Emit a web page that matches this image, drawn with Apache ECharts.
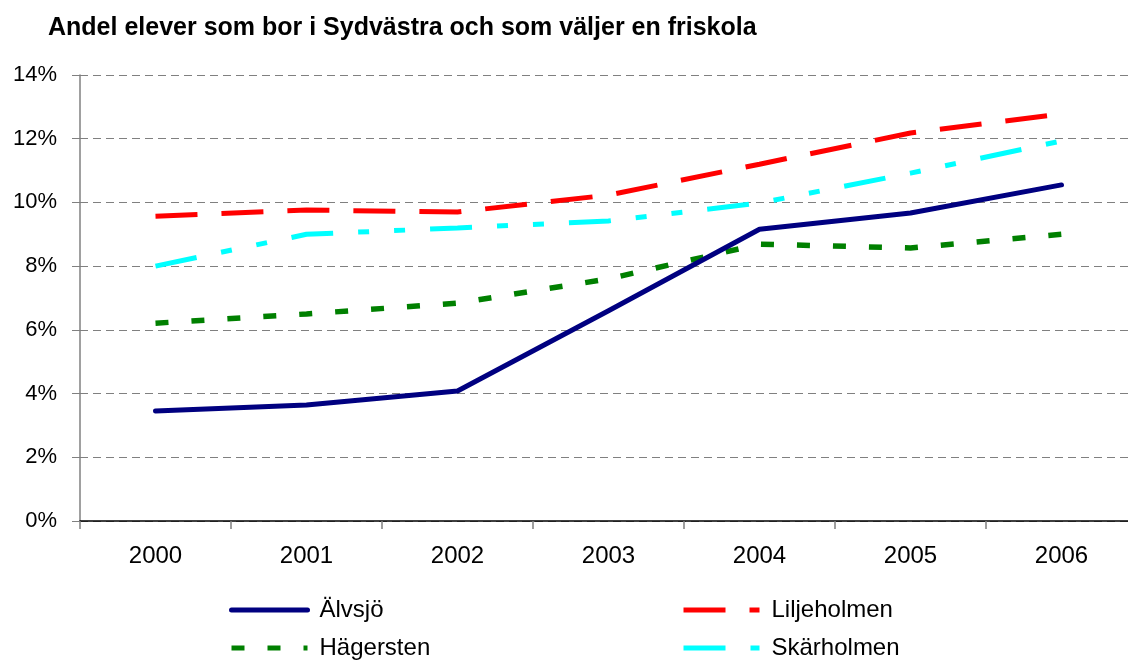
<!DOCTYPE html>
<html>
<head>
<meta charset="utf-8">
<script src="https://cdn.jsdelivr.net/npm/echarts@6/dist/echarts.min.js"></script>
<style>
  html, body { margin: 0; padding: 0; background: #fff; overflow: hidden; }
  /* plottytan går något utanför bildens högerkant, som i originalet */
  #chart { width: 1137px; height: 663px; }
</style>
</head>
<body>
<div id="chart"></div>
<script>
// Andel elever (%) per stadsdel som väljer friskola
const years = ['2000', '2001', '2002', '2003', '2004', '2005', '2006'];
const alvsjo = [3.45, 3.64, 4.08, 6.6, 9.16, 9.67, 10.55];
const liljeholmen = [9.57, 9.76, 9.7, 10.23, 11.2, 12.18, 12.78];
const hagersten = [6.21, 6.5, 6.84, 7.6, 8.69, 8.57, 9.0];
const skarholmen = [8.0, 9.0, 9.2, 9.42, 9.98, 10.92, 11.93];
const yTicks = [0, 2, 4, 6, 8, 10, 12, 14];

const chart = echarts.init(document.getElementById('chart'));

const font = 'Liberation Sans, Arial, sans-serif';

// en legend per post, placerade som i originalet
function legendAt(name, left, top) {
  return {
    data: [name],
    left: left,
    top: top,
    padding: 0,
    itemWidth: 76,
    itemHeight: 14,
    itemGap: 0,
    itemStyle: { opacity: 0 },
    lineStyle: { width: 5 },
    textStyle: { fontFamily: font, fontSize: 24, color: '#000', padding: [0, 0, 0, 7] },
    selectedMode: false
  };
}

const option = {
  backgroundColor: '#fff',
  animation: false,
  title: {
    text: 'Andel elever som bor i Sydvästra och som väljer en friskola',
    left: 43,
    top: 11,
    textStyle: { fontFamily: font, fontSize: 25, fontWeight: 'bold', color: '#000' }
  },
  legend: [
    legendAt('Älvsjö', 229, 598),
    legendAt('Liljeholmen', 681, 598),
    legendAt('Hägersten', 229, 636),
    legendAt('Skärholmen', 681, 636)
  ],
  grid: {
    left: 80,
    top: 75,
    right: 0,
    height: 446
  },
  xAxis: {
    type: 'category',
    data: years,
    boundaryGap: true,
    axisLine: { lineStyle: { color: '#000', width: 1.5 } },
    axisTick: { show: true, length: 8, lineStyle: { color: '#808080', width: 1.5 } },
    axisLabel: { fontFamily: font, fontSize: 24, color: '#000', margin: 23 },
    splitLine: { show: false }
  },
  yAxis: {
    type: 'value',
    min: 0,
    max: 14,
    interval: 2,
    axisLine: { show: true, lineStyle: { color: '#808080', width: 1.5 } },
    axisTick: { show: true, length: 8, lineStyle: { color: '#808080' } },
    axisLabel: {
      fontFamily: font, fontSize: 22, color: '#000', margin: 23,
      formatter: (v) => (yTicks.includes(v) ? v + '%' : '')
    },
    splitLine: { lineStyle: { color: '#808080', type: [8, 5], width: 1 } }
  },
  series: [
    {
      name: 'Älvsjö',
      type: 'line',
      data: alvsjo,
      symbol: 'none',
      z: 5,
      itemStyle: { color: '#000080' },
      lineStyle: { color: '#000080', width: 5, cap: 'round', join: 'round' }
    },
    {
      name: 'Liljeholmen',
      type: 'line',
      data: liljeholmen,
      symbol: 'none',
      z: 4,
      itemStyle: { color: '#ff0000' },
      lineStyle: { color: '#ff0000', width: 5, type: [42, 24], cap: 'butt' }
    },
    {
      name: 'Hägersten',
      type: 'line',
      data: hagersten,
      symbol: 'none',
      z: 3,
      itemStyle: { color: '#008000' },
      lineStyle: { color: '#008000', width: 5.5, type: [13, 23], cap: 'butt' }
    },
    {
      name: 'Skärholmen',
      type: 'line',
      data: skarholmen,
      symbol: 'none',
      z: 2,
      itemStyle: { color: '#00ffff' },
      lineStyle: { color: '#00ffff', width: 5, type: [42, 25, 11, 25, 11, 25], cap: 'butt' }
    }
  ]
};

chart.setOption(option);
</script>
</body>
</html>
